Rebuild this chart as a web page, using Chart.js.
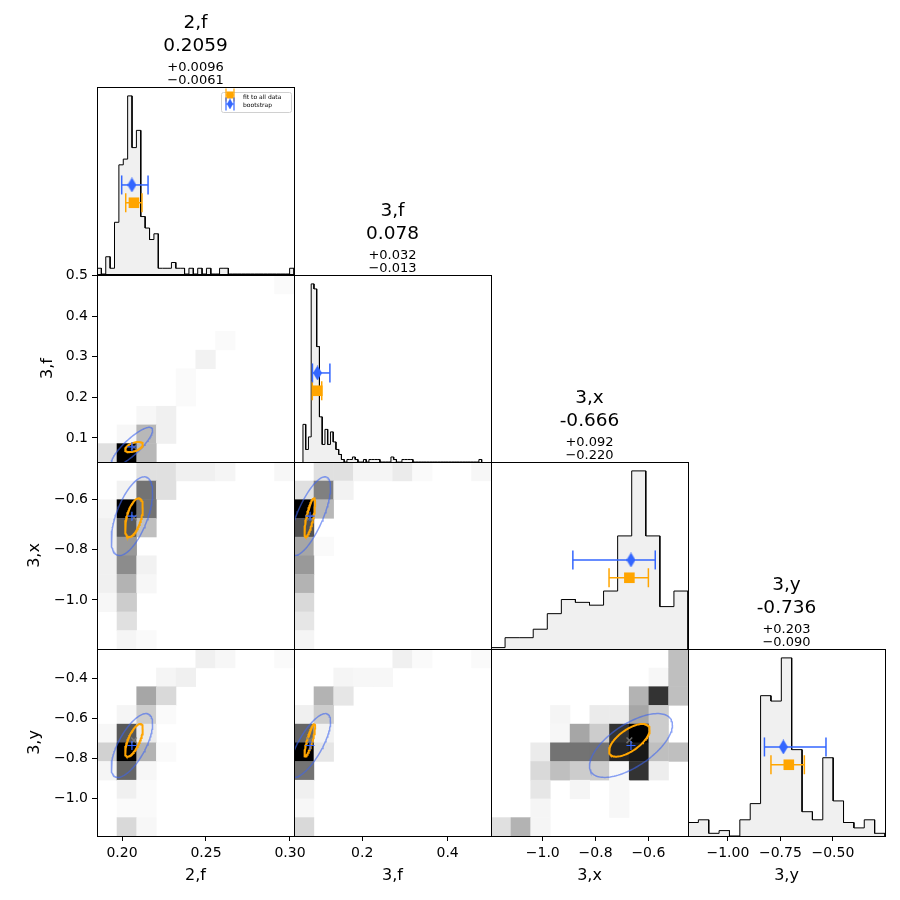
<!DOCTYPE html>
<html>
<head>
<meta charset="utf-8">
<script src="https://cdn.jsdelivr.net/npm/chart.js@4.4.1/dist/chart.umd.min.js"></script>
<style>
  body { margin: 0; background: #fff; }
  #fig { position: relative; width: 900px; height: 900px; overflow: hidden; }
  #fig canvas { position: absolute; }
</style>
</head>
<body>
<div id="fig"></div>
<script>
// parameters and their sample ranges
const names = ['2,f', '3,f', '3,x', '3,y'];
const lims = [[0.1851, 0.3024], [0.0405, 0.5015], [-1.196, -0.450], [-1.190, -0.252]];
// x range of the 1D panels (3,f has the default margins)
const diagLims = [[0.1851, 0.3024], [0.0174, 0.5256], [-1.196, -0.450], [-1.190, -0.252]];

// bootstrap median and errors (the titles)
const bootMed = [0.2059, 0.078, -0.666, -0.736];
const bootUp = [0.0096, 0.032, 0.092, 0.203];
const bootDn = [0.0061, 0.013, 0.220, 0.090];
const digits = [4, 3, 3, 3];

// fit to all data
const fitVal = [0.2071, 0.0775, -0.672, -0.710];
const fitLo = [0.2022, 0.0646, -0.749, -0.795];
const fitHi = [0.2119, 0.0889, -0.600, -0.636];

// 1-sigma ellipses
const bootSig = [0.0123, 0.048, 0.157, 0.160];
const fitSig = [0.0053, 0.0125, 0.077, 0.082];
const bootRho = {'1,0': 0.85, '2,0': 0.60, '3,0': 0.68, '2,1': 0.73, '3,1': 0.75, '3,2': 0.64};
const fitRho = {'1,0': 0.50, '2,0': 0.53, '3,0': 0.70, '2,1': 0.75, '3,1': 0.85, '3,2': 0.65};

// 1D histogram counts
const hist2f = [1,0,3,1,9,19,20,31,22,25,10,8,6,7,1, 1,1,2,1,1,0,1,0,1,0,1,0,0,1,1, 0,0,0,0,0,0,0,0,0,0,0,0,0,0,1];
const hist3f = [15,5,10,71,69,46,18,7,13,7, 12,8,5,3,1,0,1,1,2,1, 0,0,1,0,1,1,1,1,0,0,
                0,0,2,1,0,0,1,1,1,1, 0,0,0,0,0,0,0,0,0,0, 0,0,0,0,0,0,0,0,0,0, 0,0,0,0,1];
const hist3x = [1,8,8,14,25,35,33,31,41,80,126,80,30,41];
const hist3y = [5,6,1,2,0,6,12,52,50,66,32,9,6,29,13,5,3,6,1];

// 2D histograms, relative density, rows listed from top to bottom
const h3f_2f = [
  [0,0,0,0,0,0,0,0,0,0.02],
  [0,0,0,0,0,0,0,0,0,0],
  [0,0,0,0,0,0,0,0,0,0],
  [0,0,0,0,0,0,0.02,0,0,0],
  [0,0,0,0,0,0.05,0,0,0,0],
  [0,0,0,0,0.02,0,0,0,0,0],
  [0,0,0,0,0.02,0,0,0,0,0],
  [0,0,0.03,0.06,0,0,0,0,0,0],
  [0,0.03,0.28,0.06,0,0,0,0,0,0],
  [0.12,1,0.28,0,0,0,0,0,0,0]];
const h3x_2f = [
  [0,0,0.12,0.12,0.06,0.06,0.04,0,0,0.03],
  [0,0.05,0.55,0.12,0,0,0,0,0,0],
  [0.04,1,0.55,0,0,0,0,0,0,0],
  [0.06,0.65,0.25,0,0,0,0,0,0,0],
  [0.06,0.4,0,0,0,0,0,0,0,0],
  [0.06,0.45,0.05,0,0,0,0,0,0,0],
  [0.06,0.3,0.03,0,0,0,0,0,0,0],
  [0.03,0.2,0,0,0,0,0,0,0,0],
  [0,0.12,0,0,0,0,0,0,0,0],
  [0,0.04,0.02,0,0,0,0,0,0,0]];
const h3y_2f = [
  [0,0,0,0,0,0.06,0.03,0,0,0.02],
  [0,0,0,0.04,0.06,0,0,0,0,0],
  [0,0,0.35,0.15,0,0,0,0,0,0],
  [0,0.04,0.2,0.02,0,0,0,0,0,0],
  [0.03,0.65,0.08,0,0,0,0,0,0,0],
  [0.18,1,0.3,0.02,0,0,0,0,0,0],
  [0.04,0.6,0.03,0,0,0,0,0,0,0],
  [0,0.06,0.02,0,0,0,0,0,0,0],
  [0,0.02,0.02,0,0,0,0,0,0,0],
  [0,0.15,0.03,0,0,0,0,0,0,0]];
const h3x_3f = [
  [0,0.12,0.12,0.04,0.04,0.08,0.02,0,0,0.03],
  [0.12,0.5,0.05,0,0,0,0,0,0,0],
  [1,0.28,0,0,0,0,0,0,0,0],
  [0.68,0,0,0,0,0,0,0,0,0],
  [0.35,0.02,0,0,0,0,0,0,0,0],
  [0.4,0,0,0,0,0,0,0,0,0],
  [0.3,0,0,0,0,0,0,0,0,0],
  [0.15,0,0,0,0,0,0,0,0,0],
  [0.1,0,0,0,0,0,0,0,0,0],
  [0.04,0,0,0,0,0,0,0,0,0]];
const h3y_3f = [
  [0,0,0,0,0,0.06,0.02,0,0,0.02],
  [0,0,0.04,0.03,0.03,0,0,0,0,0],
  [0,0.3,0.1,0,0,0,0,0,0,0],
  [0.06,0.2,0,0,0,0,0,0,0,0],
  [0.6,0.05,0,0,0,0,0,0,0,0],
  [1,0.1,0,0,0,0,0,0,0,0],
  [0.55,0,0,0,0,0,0,0,0,0],
  [0.06,0,0,0,0,0,0,0,0,0],
  [0.03,0,0,0,0,0,0,0,0,0],
  [0.15,0,0,0,0,0,0,0,0,0]];
const h3y_3x = [
  [0,0,0,0,0,0,0,0,0,0.25],
  [0,0,0,0,0,0,0,0,0.03,0.25],
  [0,0,0,0,0,0,0,0.3,0.8,0.25],
  [0,0,0,0.04,0,0.08,0.08,0.35,0.2,0],
  [0,0,0,0.03,0.35,0.2,0.8,1,0.2,0],
  [0,0,0.08,0.55,0.55,0.55,0.85,0.9,0.25,0.25],
  [0,0,0.15,0.25,0.2,0.2,0.03,0.8,0.07,0],
  [0,0,0.1,0,0.04,0,0.03,0,0,0],
  [0,0,0.04,0,0,0,0.03,0,0,0],
  [0.12,0.3,0.04,0,0,0,0,0,0,0]];

// axis tick steps / decimals
const xStep = [0.05, 0.2, 0.2, 0.25], xDec = [2, 1, 1, 2];
const yStep = [null, 0.1, 0.2, 0.2], yDec = [0, 1, 1, 1];

const hists = [hist2f, hist3f, hist3x, hist3y];
const grids = {'1,0': h3f_2f, '2,0': h3x_2f, '3,0': h3y_2f, '2,1': h3x_3f, '3,1': h3y_3f, '3,2': h3y_3x};

const BLUE = '#3366ff', ORANGE = '#ffa500';
Chart.defaults.font.family = '"DejaVu Sans", sans-serif';
Chart.defaults.color = '#000';

const fig = document.getElementById('fig');
const L = [97, 294, 491, 688], T = [87, 275, 462, 649], W = 197, H = 187;

const fmt = (v, d) => v.toFixed(d).replace('-', '\u2212');
const edges = (lim, n) => Array.from({length: n + 1}, (_, i) => lim[0] + i * (lim[1] - lim[0]) / n);

function stepPoints(counts, lim) {
  const e = edges(lim, counts.length);
  const pts = [{x: e[0], y: 0}];
  counts.forEach((c, i) => { pts.push({x: e[i], y: c}); pts.push({x: e[i + 1], y: c}); });
  pts.push({x: e[counts.length], y: 0});
  return pts;
}

function ellipse(cx, cy, sx, sy, rho) {
  const pts = [], k = Math.sqrt(1 - rho * rho);
  for (let i = 0; i <= 120; i++) {
    const t = 2 * Math.PI * i / 120;
    pts.push({x: cx + sx * Math.cos(t), y: cy + sy * (rho * Math.cos(t) + k * Math.sin(t))});
  }
  return pts;
}

function thinDiamond(w, h, color) {
  const c = document.createElement('canvas');
  c.width = w; c.height = h;
  const g = c.getContext('2d');
  g.fillStyle = color;
  g.beginPath(); g.moveTo(w / 2, 0); g.lineTo(w, h / 2); g.lineTo(w / 2, h); g.lineTo(0, h / 2); g.closePath(); g.fill();
  return c;
}
const diamond = thinDiamond(9, 15, BLUE);
const smallDiamond = thinDiamond(6, 11, BLUE);

function errBar(lo, hi, y, color, order) {
  return { data: [{x: lo, y}, {x: hi, y}], showLine: true, borderColor: color, borderWidth: 1.5, order,
    pointStyle: 'line', pointRadius: 9.5, pointRotation: 90, pointBorderColor: color, pointBorderWidth: 1.5 };
}

const frame = {
  id: 'frame',
  afterDraw(chart) {
    const {ctx, chartArea: a} = chart;
    ctx.save();
    ctx.strokeStyle = '#000'; ctx.lineWidth = 1;
    ctx.strokeRect(Math.round(a.left) + 0.5, Math.round(a.top) + 0.5, Math.round(a.width), Math.round(a.height));
    ctx.restore();
  }
};

function cellPlugin(grid, xe, ye) {
  return {
    id: 'cells',
    beforeDatasetsDraw(chart) {
      const {ctx, scales: {x, y}} = chart;
      const n = grid.length;
      ctx.save();
      grid.forEach((row, r) => {
        const iy = n - 1 - r;
        row.forEach((v, ix) => {
          if (!v) return;
          const x0 = x.getPixelForValue(xe[ix]), x1 = x.getPixelForValue(xe[ix + 1]);
          const y0 = y.getPixelForValue(ye[iy + 1]), y1 = y.getPixelForValue(ye[iy]);
          const g = Math.round(255 * (1 - v));
          ctx.fillStyle = `rgb(${g},${g},${g})`;
          ctx.fillRect(x0, y0, x1 - x0 + 0.5, y1 - y0 + 0.5);
        });
      });
      ctx.restore();
    }
  };
}

const legendBox = {
  id: 'legendBox',
  afterDraw(chart) {
    const {ctx, chartArea: a} = chart;
    const x0 = a.right - 73, y0 = a.top + 5;
    ctx.save();
    ctx.beginPath();
    ctx.roundRect(x0 + 0.5, y0 + 0.5, 70, 20, 2);
    ctx.fillStyle = 'rgba(255,255,255,0.8)'; ctx.fill();
    ctx.strokeStyle = '#d0d0d0'; ctx.lineWidth = 1; ctx.stroke();
    const handle = (cy, color, marker) => {
      ctx.strokeStyle = color; ctx.lineWidth = 1.2;
      ctx.beginPath();
      ctx.moveTo(x0 + 5, cy); ctx.lineTo(x0 + 13, cy);
      ctx.moveTo(x0 + 5, cy - 6.5); ctx.lineTo(x0 + 5, cy + 6.5);
      ctx.moveTo(x0 + 13, cy - 6.5); ctx.lineTo(x0 + 13, cy + 6.5);
      ctx.stroke();
      ctx.fillStyle = color;
      marker(x0 + 9, cy);
    };
    handle(y0 + 3, ORANGE, (x, y) => ctx.fillRect(x - 3.5, y - 3.5, 7, 7));
    handle(y0 + 12, BLUE, (x, y) => ctx.drawImage(smallDiamond, x - 3, y - 5.5));
    ctx.fillStyle = '#000'; ctx.font = '6px "DejaVu Sans"';
    ctx.textBaseline = 'middle'; ctx.textAlign = 'left';
    ctx.fillText('fit to all data', x0 + 22, y0 + 5);
    ctx.fillText('bootstrap', x0 + 22, y0 + 13);
    ctx.restore();
  }
};

function panel(r, c) {
  const diag = r === c;
  const showX = r === 3, showY = c === 0 && r > 0;
  // margins round the plot box; large enough for Chart.js' own overflow padding
  const padL = showY ? 97 : 24, padR = 24;
  const padT = diag ? 80 : 24, padB = showX ? 64 : 24;
  const cv = document.createElement('canvas');
  cv.width = W + padL + padR; cv.height = H + padT + padB;
  cv.style.left = (L[c] - padL) + 'px'; cv.style.top = (T[r] - padT) + 'px';
  fig.appendChild(cv);

  const xLim = diag ? diagLims[c] : lims[c];
  let datasets, yMin, yMax, plugins = [];

  if (diag) {
    const counts = hists[r];
    const peak = Math.max(...counts);
    const yB = 0.5 * peak, yO = 0.4 * peak;
    yMin = 0; yMax = 1.05 * peak;
    datasets = [
      { data: stepPoints(counts, lims[r]), showLine: true, borderColor: '#000', borderWidth: 1,
        backgroundColor: '#f0f0f0', fill: 'origin', pointRadius: 0, order: 10 },
      errBar(fitLo[r], fitHi[r], yO, ORANGE, 4),
      { data: [{x: fitVal[r], y: yO}], pointStyle: 'rect', pointRadius: 7.5, order: 3,
        pointBackgroundColor: ORANGE, pointBorderWidth: 0 },
      errBar(bootMed[r] - bootDn[r], bootMed[r] + bootUp[r], yB, BLUE, 2),
      { data: [{x: bootMed[r], y: yB}], pointStyle: diamond, pointRadius: 6, order: 1 }
    ];
    plugins = [frame];
    if (r === 0) plugins.push(legendBox);
  } else {
    const key = r + ',' + c;
    yMin = lims[r][0]; yMax = lims[r][1];
    datasets = [
      { data: ellipse(bootMed[c], bootMed[r], bootSig[c], bootSig[r], bootRho[key]), showLine: true,
        borderColor: 'rgba(60,100,240,0.6)', borderWidth: 1.5, pointRadius: 0, order: 4 },
      { data: ellipse(fitVal[c], fitVal[r], fitSig[c], fitSig[r], fitRho[key]), showLine: true,
        borderColor: ORANGE, borderWidth: 2, pointRadius: 0, order: 3 },
      { data: [{x: fitVal[c], y: fitVal[r]}], pointStyle: 'crossRot', pointRadius: 4, order: 2,
        pointBorderColor: 'rgba(128,128,128,0.8)', pointBorderWidth: 1.5 },
      { data: [{x: bootMed[c], y: bootMed[r]}], pointStyle: 'cross', pointRadius: 4.5, order: 1,
        pointBorderColor: BLUE, pointBorderWidth: 1.2 }
    ];
    plugins = [cellPlugin(grids[key], edges(lims[c], 10), edges(lims[r], 10)), frame];
  }

  const xScale = {
    type: 'linear', min: xLim[0], max: xLim[1], display: showX,
    grid: { drawOnChartArea: false, color: '#000', tickLength: 5, lineWidth: 1 },
    border: { display: false },
    ticks: { stepSize: xStep[c], includeBounds: false, maxRotation: 0, autoSkip: false, padding: 4,
      font: { size: 14 }, callback: v => fmt(v, xDec[c]) },
    title: { display: showX, text: names[c], font: { size: 16 }, padding: { top: 0, bottom: 14.7 } }
  };
  if (showX) xScale.afterFit = s => { s.height = padB; };

  const yScale = {
    type: 'linear', min: yMin, max: yMax, display: showY,
    grid: { drawOnChartArea: false, color: '#000', tickLength: 5, lineWidth: 1 },
    border: { display: false },
    ticks: { stepSize: diag ? undefined : yStep[r], includeBounds: false, autoSkip: false, padding: 4,
      font: { size: 14 }, callback: v => fmt(v, yDec[r]) },
    title: { display: showY, text: names[r], font: { size: 16 },
      padding: { top: r === 1 ? 37.9 : 25.4, bottom: 0 } }
  };
  if (showY) yScale.afterFit = s => { s.width = padL; };

  new Chart(cv, {
    type: 'scatter',
    data: { datasets },
    options: {
      responsive: false,
      animation: false,
      events: [],
      layout: { padding: { left: showY ? 0 : padL, right: padR, top: diag ? 5 : padT, bottom: showX ? 0 : padB } },
      scales: { x: xScale, y: yScale },
      plugins: {
        legend: { display: false },
        tooltip: { enabled: false },
        title: { display: diag, fullSize: false, color: '#000',
          text: [names[r], bootMed[r].toFixed(digits[r])],
          font: { size: 18.5, lineHeight: 1.243, weight: 'normal' }, padding: { top: 0, bottom: 0 } },
        subtitle: { display: diag, fullSize: false, color: '#000',
          text: ['+' + bootUp[r].toFixed(digits[r]), '\u2212' + bootDn[r].toFixed(digits[r])],
          font: { size: 13, lineHeight: 1.0 }, padding: { top: 3, bottom: 0 } }
      }
    },
    plugins
  });
}

for (let r = 0; r < 4; r++) {
  for (let c = 0; c <= r; c++) panel(r, c);
}
</script>
</body>
</html>
